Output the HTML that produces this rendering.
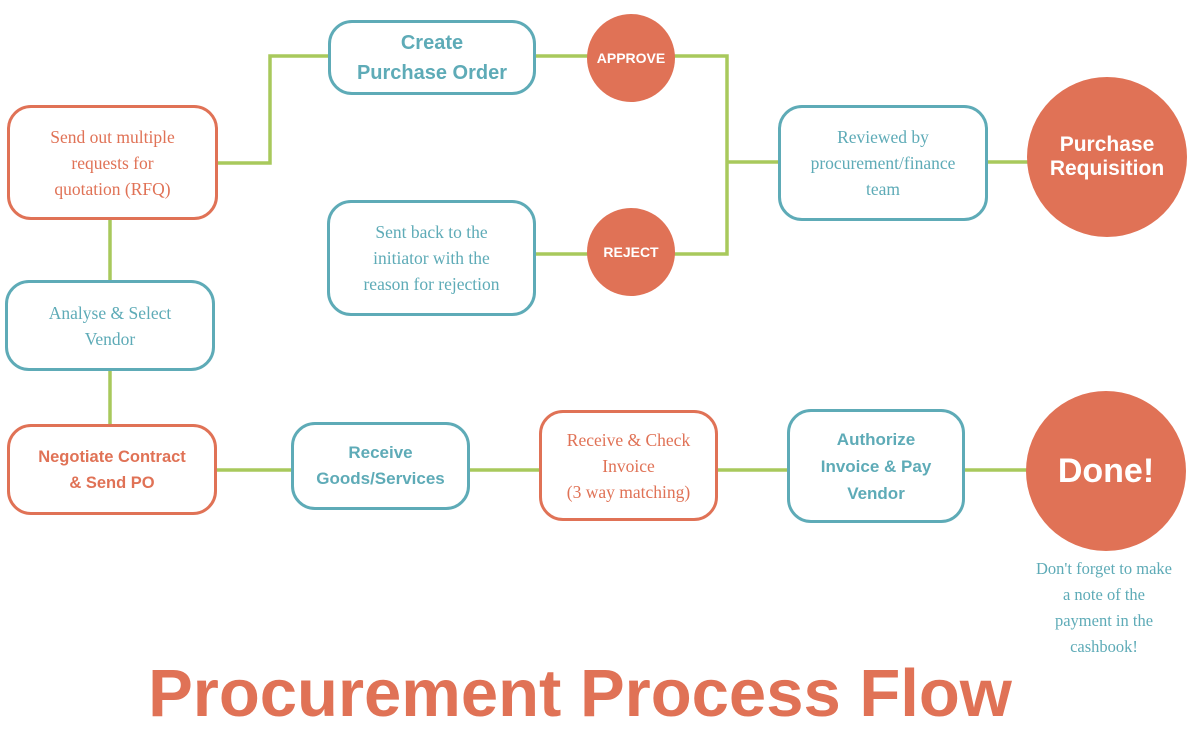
<!DOCTYPE html>
<html><head><meta charset="utf-8"><style>
body{margin:0;width:1200px;height:736px;background:#fff;position:relative;overflow:hidden}
.b{position:absolute;box-sizing:border-box;border:3.5px solid;border-radius:24px;display:flex;align-items:center;justify-content:center;text-align:center;background:#fff}
.t{border-color:#5EABB7;color:#5EABB7}.o{border-color:#E07256;color:#E07256}
.s{font-family:"Liberation Serif","DejaVu Serif",serif;font-size:17.5px;line-height:26px}
.k{font-family:"Liberation Sans",sans-serif;font-weight:bold}
.c{position:absolute;border-radius:50%;background:#E07256;color:#fff;display:flex;align-items:center;justify-content:center;text-align:center;font-family:"Liberation Sans",sans-serif;font-weight:bold}
</style></head><body>
<svg width="1200" height="736" style="position:absolute;left:0;top:0" fill="none" stroke="#A8C95C" stroke-width="3.5">
<polyline points="217,163 270,163 270,56 330,56"/>
<line x1="110" y1="219" x2="110" y2="282"/>
<line x1="110" y1="369" x2="110" y2="426"/>
<line x1="534" y1="56" x2="590" y2="56"/>
<polyline points="672,56 727,56 727,254 672,254"/>
<line x1="534" y1="254" x2="590" y2="254"/>
<line x1="727" y1="162" x2="780" y2="162"/>
<line x1="986" y1="162" x2="1030" y2="162"/>
<line x1="215" y1="470" x2="1030" y2="470"/>
</svg>
<div class="b t k" style="left:328px;top:20px;width:208px;height:75px;font-size:20px;line-height:30px">Create<br>Purchase Order</div>
<div class="b t s" style="left:327px;top:200px;width:209px;height:116px">Sent back to the<br>initiator with the<br>reason for rejection</div>
<div class="c" style="left:587px;top:14px;width:88px;height:88px;font-size:14px">APPROVE</div>
<div class="c" style="left:587px;top:208px;width:88px;height:88px;font-size:14px">REJECT</div>
<div class="b t s" style="left:778px;top:105px;width:210px;height:116px">Reviewed by<br>procurement/finance<br>team</div>
<div class="c" style="left:1027px;top:77px;width:160px;height:160px;font-size:21px;line-height:24px">Purchase<br>Requisition</div>
<div class="b o s" style="left:7px;top:105px;width:211px;height:115px">Send out multiple<br>requests for<br>quotation (RFQ)</div>
<div class="b t s" style="left:5px;top:280px;width:210px;height:91px">Analyse &amp; Select<br>Vendor</div>
<div class="b o k" style="left:7px;top:424px;width:210px;height:91px;font-size:16.5px;line-height:26px">Negotiate Contract<br>&amp; Send PO</div>
<div class="b t k" style="left:291px;top:422px;width:179px;height:88px;font-size:17px;line-height:26px">Receive<br>Goods/Services</div>
<div class="b o s" style="left:539px;top:410px;width:179px;height:111px">Receive &amp; Check<br>Invoice<br>(3 way matching)</div>
<div class="b t k" style="left:787px;top:409px;width:178px;height:114px;font-size:17px;line-height:27px">Authorize<br>Invoice &amp; Pay<br>Vendor</div>
<div class="c" style="left:1026px;top:391px;width:160px;height:160px;font-size:34px">Done!</div>
<div class="s" style="position:absolute;left:1004px;top:556px;width:200px;text-align:center;color:#5EABB7;font-size:16.5px">Don't forget to make<br>a note of the<br>payment in the<br>cashbook!</div>
<div class="k" style="position:absolute;left:0;top:652px;width:1160px;text-align:center;color:#E07256;font-size:67px;line-height:84px">Procurement Process Flow</div>
</body></html>
